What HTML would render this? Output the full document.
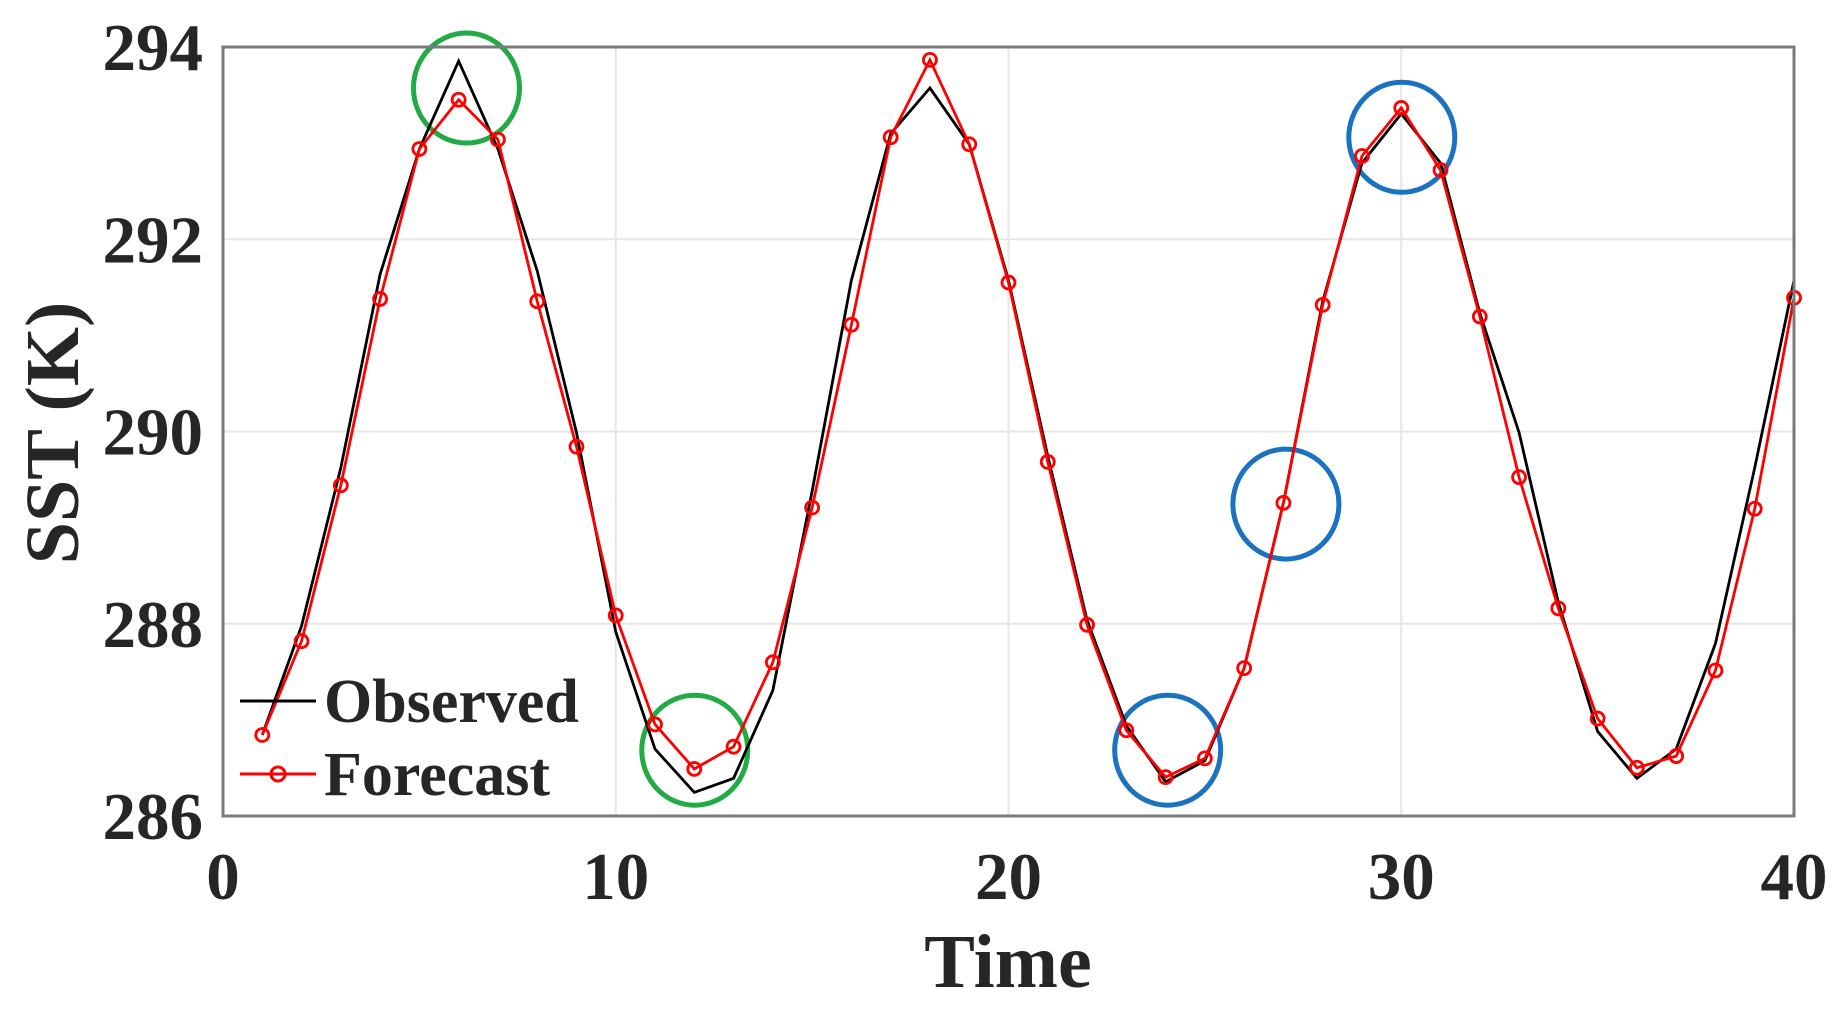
<!DOCTYPE html>
<html><head><meta charset="utf-8"><style>
html,body{margin:0;padding:0;background:#fff;}
svg{display:block;}
text{font-family:"Liberation Serif",serif;font-weight:bold;fill:#262626;}
</style></head><body>
<svg id="s" width="1836" height="1014" xmlns="http://www.w3.org/2000/svg">
<g id="grid" stroke="#e6e6e6" stroke-width="2"></g>
<g id="circ" fill="none" stroke-width="5"></g>
<g id="series"></g>
<rect x="223" y="47" width="1571" height="769" fill="none" stroke="#7a7a7a" stroke-width="3"/>
<g id="labels" font-size="67"></g>
<text x="1008" y="987" font-size="76" text-anchor="middle">Time</text>
<text transform="translate(78,433) rotate(-90)" font-size="76" text-anchor="middle">SST (K)</text>
<line x1="240" y1="701" x2="316" y2="701" stroke="#000" stroke-width="3"/>
<text x="324" y="722" font-size="62">Observed</text>
<line x1="240" y1="774" x2="316" y2="774" stroke="#f00" stroke-width="3"/>
<circle cx="278" cy="774" r="7" fill="none" stroke="#f00" stroke-width="3"/>
<text x="324" y="795" font-size="62">Forecast</text>
</svg>
<script>
var NS="http://www.w3.org/2000/svg";
function X(t){return 223+t*39.275;}
function Y(v){return 47+(294-v)*96.125;}
function dy(d){return 47+(d-41)*1.172;}
function el(n,a,p){var e=document.createElementNS(NS,n);for(var k in a)e.setAttribute(k,a[k]);p.appendChild(e);return e;}
var g=document.getElementById('grid'),L=document.getElementById('labels');
[10,20,30].forEach(function(t){el('line',{x1:X(t),y1:47,x2:X(t),y2:816},g);});
[288,290,292].forEach(function(v){el('line',{x1:223,y1:Y(v),x2:1794,y2:Y(v)},g);});
[0,10,20,30,40].forEach(function(t){var e=el('text',{x:X(t),y:899,'text-anchor':'middle'},L);e.textContent=t;});
[286,288,290,292,294].forEach(function(v){var e=el('text',{x:203,y:Y(v)+23,'text-anchor':'end'},L);e.textContent=v;});
var red=[628,548,415,256,128,86,120,258,382,526,619,657,638,566,434,278,118,52,124,242,395,534,624,664,648,571,430,261,134,93,146,271,408,520,614,656,646,573,435,255];
var blk=[628,535,400,235,128,53,128,232,370,540,640,677,665,590,420,240,115,76,124,240,390,530,620,668,650,571,430,258,140,98,140,268,370,515,625,665,640,550,400,240];
var S=document.getElementById('series');
function pts(a){return a.map(function(d,i){return X(i+1)+','+dy(d);}).join(' ');}
el('polyline',{points:pts(blk),fill:'none',stroke:'#000','stroke-width':2.8},S);
el('polyline',{points:pts(red),fill:'none',stroke:'#f00','stroke-width':2.8},S);
red.forEach(function(d,i){el('circle',{cx:X(i+1),cy:dy(d),r:6.5,fill:'none',stroke:'#f00','stroke-width':2.8},S);});
var C=document.getElementById('circ');
function dx(d){return 223+(d-190)*1.1706;}
[[398,76,'#22aa44'],[593,641,'#22aa44'],[997,641,'#1a72c0'],[1098,431,'#1a72c0'],[1197,118,'#1a72c0']].forEach(function(c){
el('ellipse',{cx:dx(c[0]),cy:dy(c[1]),rx:53,ry:55,stroke:c[2]},C);});
</script>
</body></html>
